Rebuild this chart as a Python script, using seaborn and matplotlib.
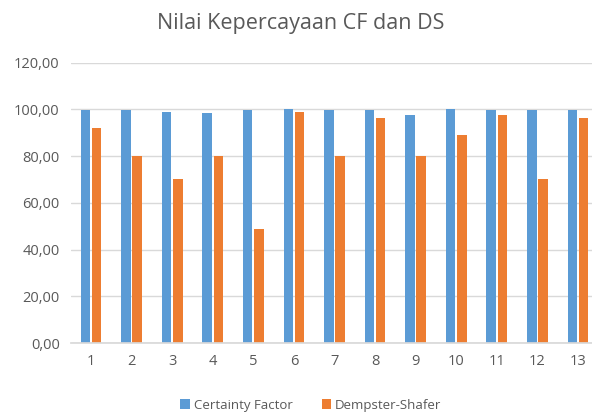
import pandas as pd
import numpy as np
import matplotlib.pyplot as plt
import seaborn as sns
from matplotlib.ticker import FuncFormatter

# Data
labels = [str(i) for i in range(1, 14)]
certainty_factor = [99.7, 99.7, 99.0, 98.4, 99.7, 100.0, 99.7, 99.7, 97.7, 100.0, 99.7, 99.7, 99.7]
dempster_shafer = [92.0, 80.0, 70.0, 80.0, 49.0, 99.0, 80.0, 96.3, 80.0, 89.0, 97.7, 70.0, 96.3]
series_names = ["Certainty Factor", "Dempster-Shafer"]

df = pd.DataFrame({
    "kasus": labels * 2,
    "nilai": certainty_factor + dempster_shafer,
    "metode": [series_names[0]] * 13 + [series_names[1]] * 13,
})

sns.set_theme(style="white")
plt.rcParams['font.family'] = ['Open Sans', 'DejaVu Sans']

fig = plt.figure(figsize=(5.92, 4.17), dpi=100)
ax = fig.add_axes([0.1195, 0.177, 0.891, 0.673])

sns.barplot(data=df, x="kasus", y="nilai", hue="metode",
            palette=["#5B9BD5", "#ED7D31"], saturation=1, width=0.55, gap=0.15,
            linewidth=0, ax=ax, legend=True)

ax.set_ylim(0, 120)
ax.set_yticks(np.arange(0, 121, 20))
ax.yaxis.set_major_formatter(FuncFormatter(lambda v, p: f"{v:.2f}".replace(".", ",")))
ax.grid(axis="y", color="#d9d9d9", linewidth=1)
ax.set_axisbelow(True)
for s in ["top", "right", "left"]:
    ax.spines[s].set_visible(False)
ax.spines["bottom"].set_color("#d9d9d9")
ax.tick_params(axis="both", labelsize=10.5, colors="#595959", length=0, pad=8)
ax.set_xlabel("")
ax.set_ylabel("")

fig.suptitle("Nilai Kepercayaan CF dan DS", x=0.508, y=0.97, fontsize=15.5, color="#595959")

ax.legend(loc="upper center", bbox_to_anchor=(0.455, -0.155), ncol=2, frameon=False,
          fontsize=9.5, handlelength=0.7, handleheight=0.7, columnspacing=2.2,
          handletextpad=0.3, labelcolor="#595959")

fig.savefig("out.png", dpi=100)
